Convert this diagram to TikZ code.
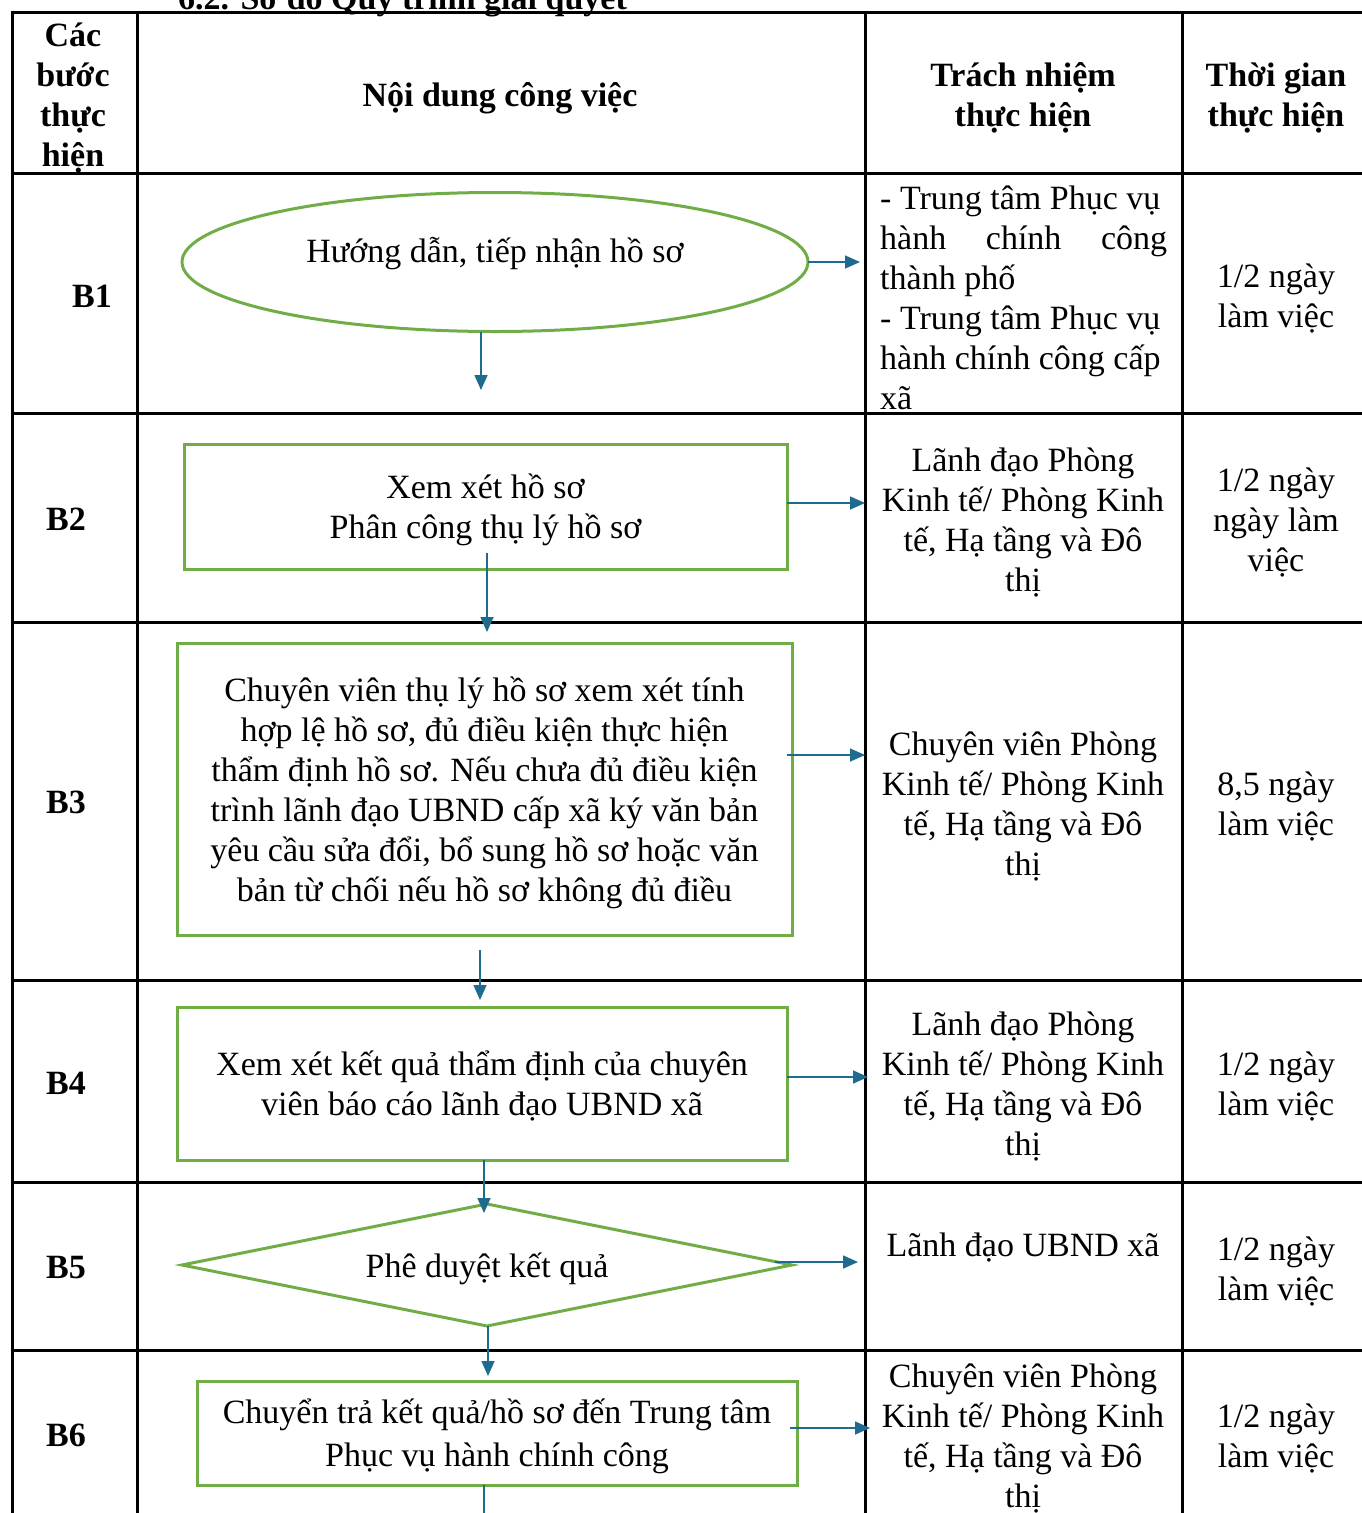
\documentclass[tikz,border=0pt]{standalone}
\usepackage{fontspec}
\setmainfont{Liberation Serif}
\usetikzlibrary{shapes.geometric,arrows.meta}
\definecolor{boxgreen}{HTML}{70AD47}
\definecolor{flowblue}{HTML}{1F6A8F}

\begin{document}
\begin{tikzpicture}[x=1pt,y=-1pt,
  txt/.style={font=\fontsize{34}{40}\selectfont, align=center, inner sep=0pt, yshift=-3pt},
  hd/.style={font=\fontsize{34}{40}\selectfont\bfseries, align=center, inner sep=0pt, yshift=-3pt},
  stepbox/.style={draw=boxgreen, line width=3pt, inner sep=0pt, outer sep=0pt, align=center, text depth=0pt, font=\fontsize{34}{40}\selectfont},
  flow/.style={draw=flowblue, line width=1.6pt, -{Triangle[length=15pt,width=13pt]}}]
\useasboundingbox (0,0) rectangle (1361,1513);
\node[hd, anchor=base west] (title) at (178,6) {6.2. Sơ đồ Quy trình giải quyết};
\foreach \y in {12,173,413,622,980,1182,1350}{
	\draw[black, line width=3pt](10.5,\y)--(1365,\y);
}
\foreach \x in {12,137,865,1182}{
	\draw[black, line width=3pt](\x,10.5)--(\x,1520);
}
\node[hd] (hstep) at (73,95) {Các\\bước\\thực\\hiện};
\node[hd] (hcontent) at (500,95) {Nội dung công việc};
\node[hd] (hresp) at (1023,95) {Trách nhiệm\\thực hiện};
\node[hd] (htime) at (1276,95) {Thời gian\\thực hiện};
\node[hd] (s1) at (92,293) {B1};
\node[hd] (s2) at (66,516) {B2};
\node[hd] (s3) at (66,799) {B3};
\node[hd] (s4) at (66,1080) {B4};
\node[hd] (s5) at (66,1265) {B5};
\node[hd] (s6) at (66,1432) {B6};
\node[stepbox, ellipse, minimum width=626, minimum height=139, text depth=24pt] (b1) at (495,262) {Hướng dẫn, tiếp nhận hồ sơ};
\node[stepbox, rectangle, minimum width=603, minimum height=125] (b2) at (485.5,506.5) {Xem xét hồ sơ\\Phân công thụ lý hồ sơ};
\node[stepbox, rectangle, minimum width=615, minimum height=292] (b3) at (484.5,789) {Chuyên viên thụ lý hồ sơ xem xét tính\\hợp lệ hồ sơ, đủ điều kiện thực hiện\\thẩm định hồ sơ. Nếu chưa đủ điều kiện\\trình lãnh đạo UBND cấp xã ký văn bản\\yêu cầu sửa đổi, bổ sung hồ sơ hoặc văn\\bản từ chối nếu hồ sơ không đủ điều};
\node[stepbox, rectangle, minimum width=610, minimum height=153] (b4) at (482,1083.5) {Xem xét kết quả thẩm định của chuyên\\viên báo cáo lãnh đạo UBND xã};
\node[stepbox, diamond, aspect=5, minimum width=610, minimum height=122] (b5) at (487,1265) {Phê duyệt kết quả};
\node[stepbox, rectangle, minimum width=600, minimum height=104] (b6) at (497,1433) {Chuyển trả kết quả/hồ sơ đến Trung tâm\\[3pt]Phục vụ hành chính công};
\node[txt, align=left, anchor=west] (resp1) at (880,295) {- Trung tâm Phục vụ\\\makebox[287pt][s]{hành chính công}\\thành phố\\- Trung tâm Phục vụ\\hành chính công cấp\\xã};
\node[txt] (resp2) at (1023,519) {Lãnh đạo Phòng\\Kinh tế/ Phòng Kinh\\tế, Hạ tầng và Đô\\thị};
\node[txt] (resp3) at (1023,803) {Chuyên viên Phòng\\Kinh tế/ Phòng Kinh\\tế, Hạ tầng và Đô\\thị};
\node[txt] (resp4) at (1023,1083) {Lãnh đạo Phòng\\Kinh tế/ Phòng Kinh\\tế, Hạ tầng và Đô\\thị};
\node[txt] (resp5) at (1023,1245) {Lãnh đạo UBND xã};
\node[txt] (resp6) at (1023,1435) {Chuyên viên Phòng\\Kinh tế/ Phòng Kinh\\tế, Hạ tầng và Đô\\thị};
\node[txt] (time1) at (1276,295) {1/2 ngày\\làm việc};
\node[txt] (time2) at (1276,519) {1/2 ngày\\ngày làm\\việc};
\node[txt] (time3) at (1276,803) {8,5 ngày\\làm việc};
\node[txt] (time4) at (1276,1083) {1/2 ngày\\làm việc};
\node[txt] (time5) at (1276,1268) {1/2 ngày\\làm việc};
\node[txt] (time6) at (1276,1435) {1/2 ngày\\làm việc};
\coordinate (r1) at (860,262);
\coordinate (r2) at (865,503);
\coordinate (r3) at (865,755);
\coordinate (r4) at (868,1077);
\coordinate (r5) at (858,1262);
\coordinate (r6) at (870,1428);
\coordinate (d1) at (481,390);
\coordinate (u2) at (487,553);
\coordinate (d2) at (487,632);
\coordinate (u3) at (480,950);
\coordinate (d3) at (480,1000);
\coordinate (d4) at (484,1213);
\coordinate (d5) at (488,1376);
\coordinate (d6) at (484,1520);
\draw[flow] (b1.east)--(r1);
\draw[flow] (b2.east |- r2)--(r2);
\draw[flow] (787,755)--(r3);
\draw[flow] (b4.east |- r4)--(r4);
\draw[flow] (775,1262)--(r5);
\draw[flow] (790,1428)--(r6);
\draw[flow] (d1 |- b1.south)--(d1);
\draw[flow] (u2)--(d2);
\draw[flow] (u3)--(d3);
\draw[flow] (d4 |- b4.south)--(d4);
\draw[flow] (b5.south -| d5)--(d5);
\draw[draw=flowblue, line width=1.6pt] (d6 |- b6.south)--(d6);
\end{tikzpicture}
\end{document}
